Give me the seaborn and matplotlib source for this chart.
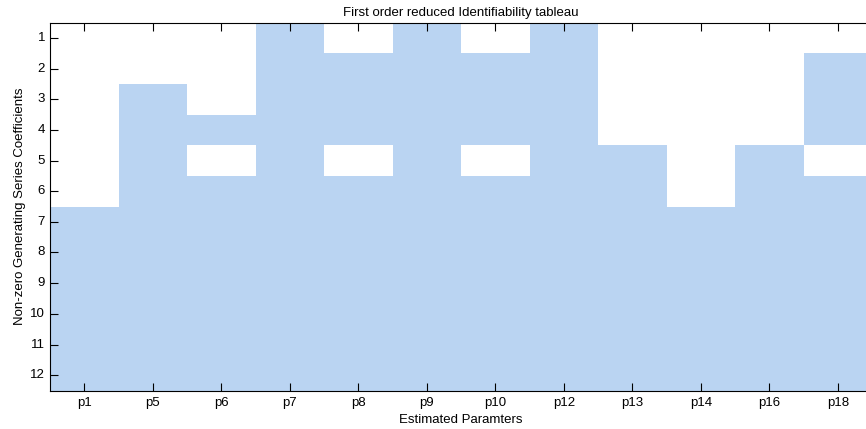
import matplotlib
matplotlib.use("Agg")
import matplotlib.pyplot as plt
import numpy as np
import pandas as pd
import seaborn as sns
from matplotlib.colors import ListedColormap

params = ["p1", "p5", "p6", "p7", "p8", "p9", "p10", "p12", "p13", "p14", "p16", "p18"]
coeffs = list(range(1, 13))

# rows (coefficient index) that are non-zero for each parameter
nonzero = {
    "p1": [7, 8, 9, 10, 11, 12],
    "p5": [3, 4, 5, 6, 7, 8, 9, 10, 11, 12],
    "p6": [4, 6, 7, 8, 9, 10, 11, 12],
    "p7": [1, 2, 3, 4, 5, 6, 7, 8, 9, 10, 11, 12],
    "p8": [2, 3, 4, 6, 7, 8, 9, 10, 11, 12],
    "p9": [1, 2, 3, 4, 5, 6, 7, 8, 9, 10, 11, 12],
    "p10": [2, 3, 4, 6, 7, 8, 9, 10, 11, 12],
    "p12": [1, 2, 3, 4, 5, 6, 7, 8, 9, 10, 11, 12],
    "p13": [5, 6, 7, 8, 9, 10, 11, 12],
    "p14": [7, 8, 9, 10, 11, 12],
    "p16": [5, 6, 7, 8, 9, 10, 11, 12],
    "p18": [2, 3, 4, 6, 7, 8, 9, 10, 11, 12],
}

df = pd.DataFrame(0, index=coeffs, columns=params)
for p in params:
    df.loc[nonzero[p], p] = 1

plt.rcParams["font.family"] = ["Liberation Sans", "DejaVu Sans"]
fs = 9.5

fig = plt.figure(figsize=(8.66, 4.29), dpi=100)
ax = fig.add_axes([50 / 866, 38.5 / 429, 822 / 866, 368 / 429])

sns.heatmap(df, cmap=ListedColormap(["white", "#BAD4F2"]), cbar=False,
            vmin=0, vmax=1, ax=ax, linewidths=0)

for side in ["left", "top", "bottom"]:
    ax.spines[side].set_visible(True)
    ax.spines[side].set_color("black")
    ax.spines[side].set_linewidth(0.8)

ax.tick_params(axis="both", direction="in", length=6, width=0.8, colors="black",
               labelsize=fs)
ax.tick_params(axis="x", top=True, rotation=0, pad=5)
ax.tick_params(axis="y", rotation=0, pad=3.5)
ax.set_yticklabels(coeffs, rotation=0)

ax.set_title("First order reduced Identifiability tableau", fontsize=fs, pad=5)
ax.set_xlabel("Estimated Paramters", fontsize=fs, labelpad=3)
ax.set_ylabel("Non-zero Generating Series Coefficients", fontsize=fs, labelpad=3)

fig.savefig("out.png", dpi=100)
